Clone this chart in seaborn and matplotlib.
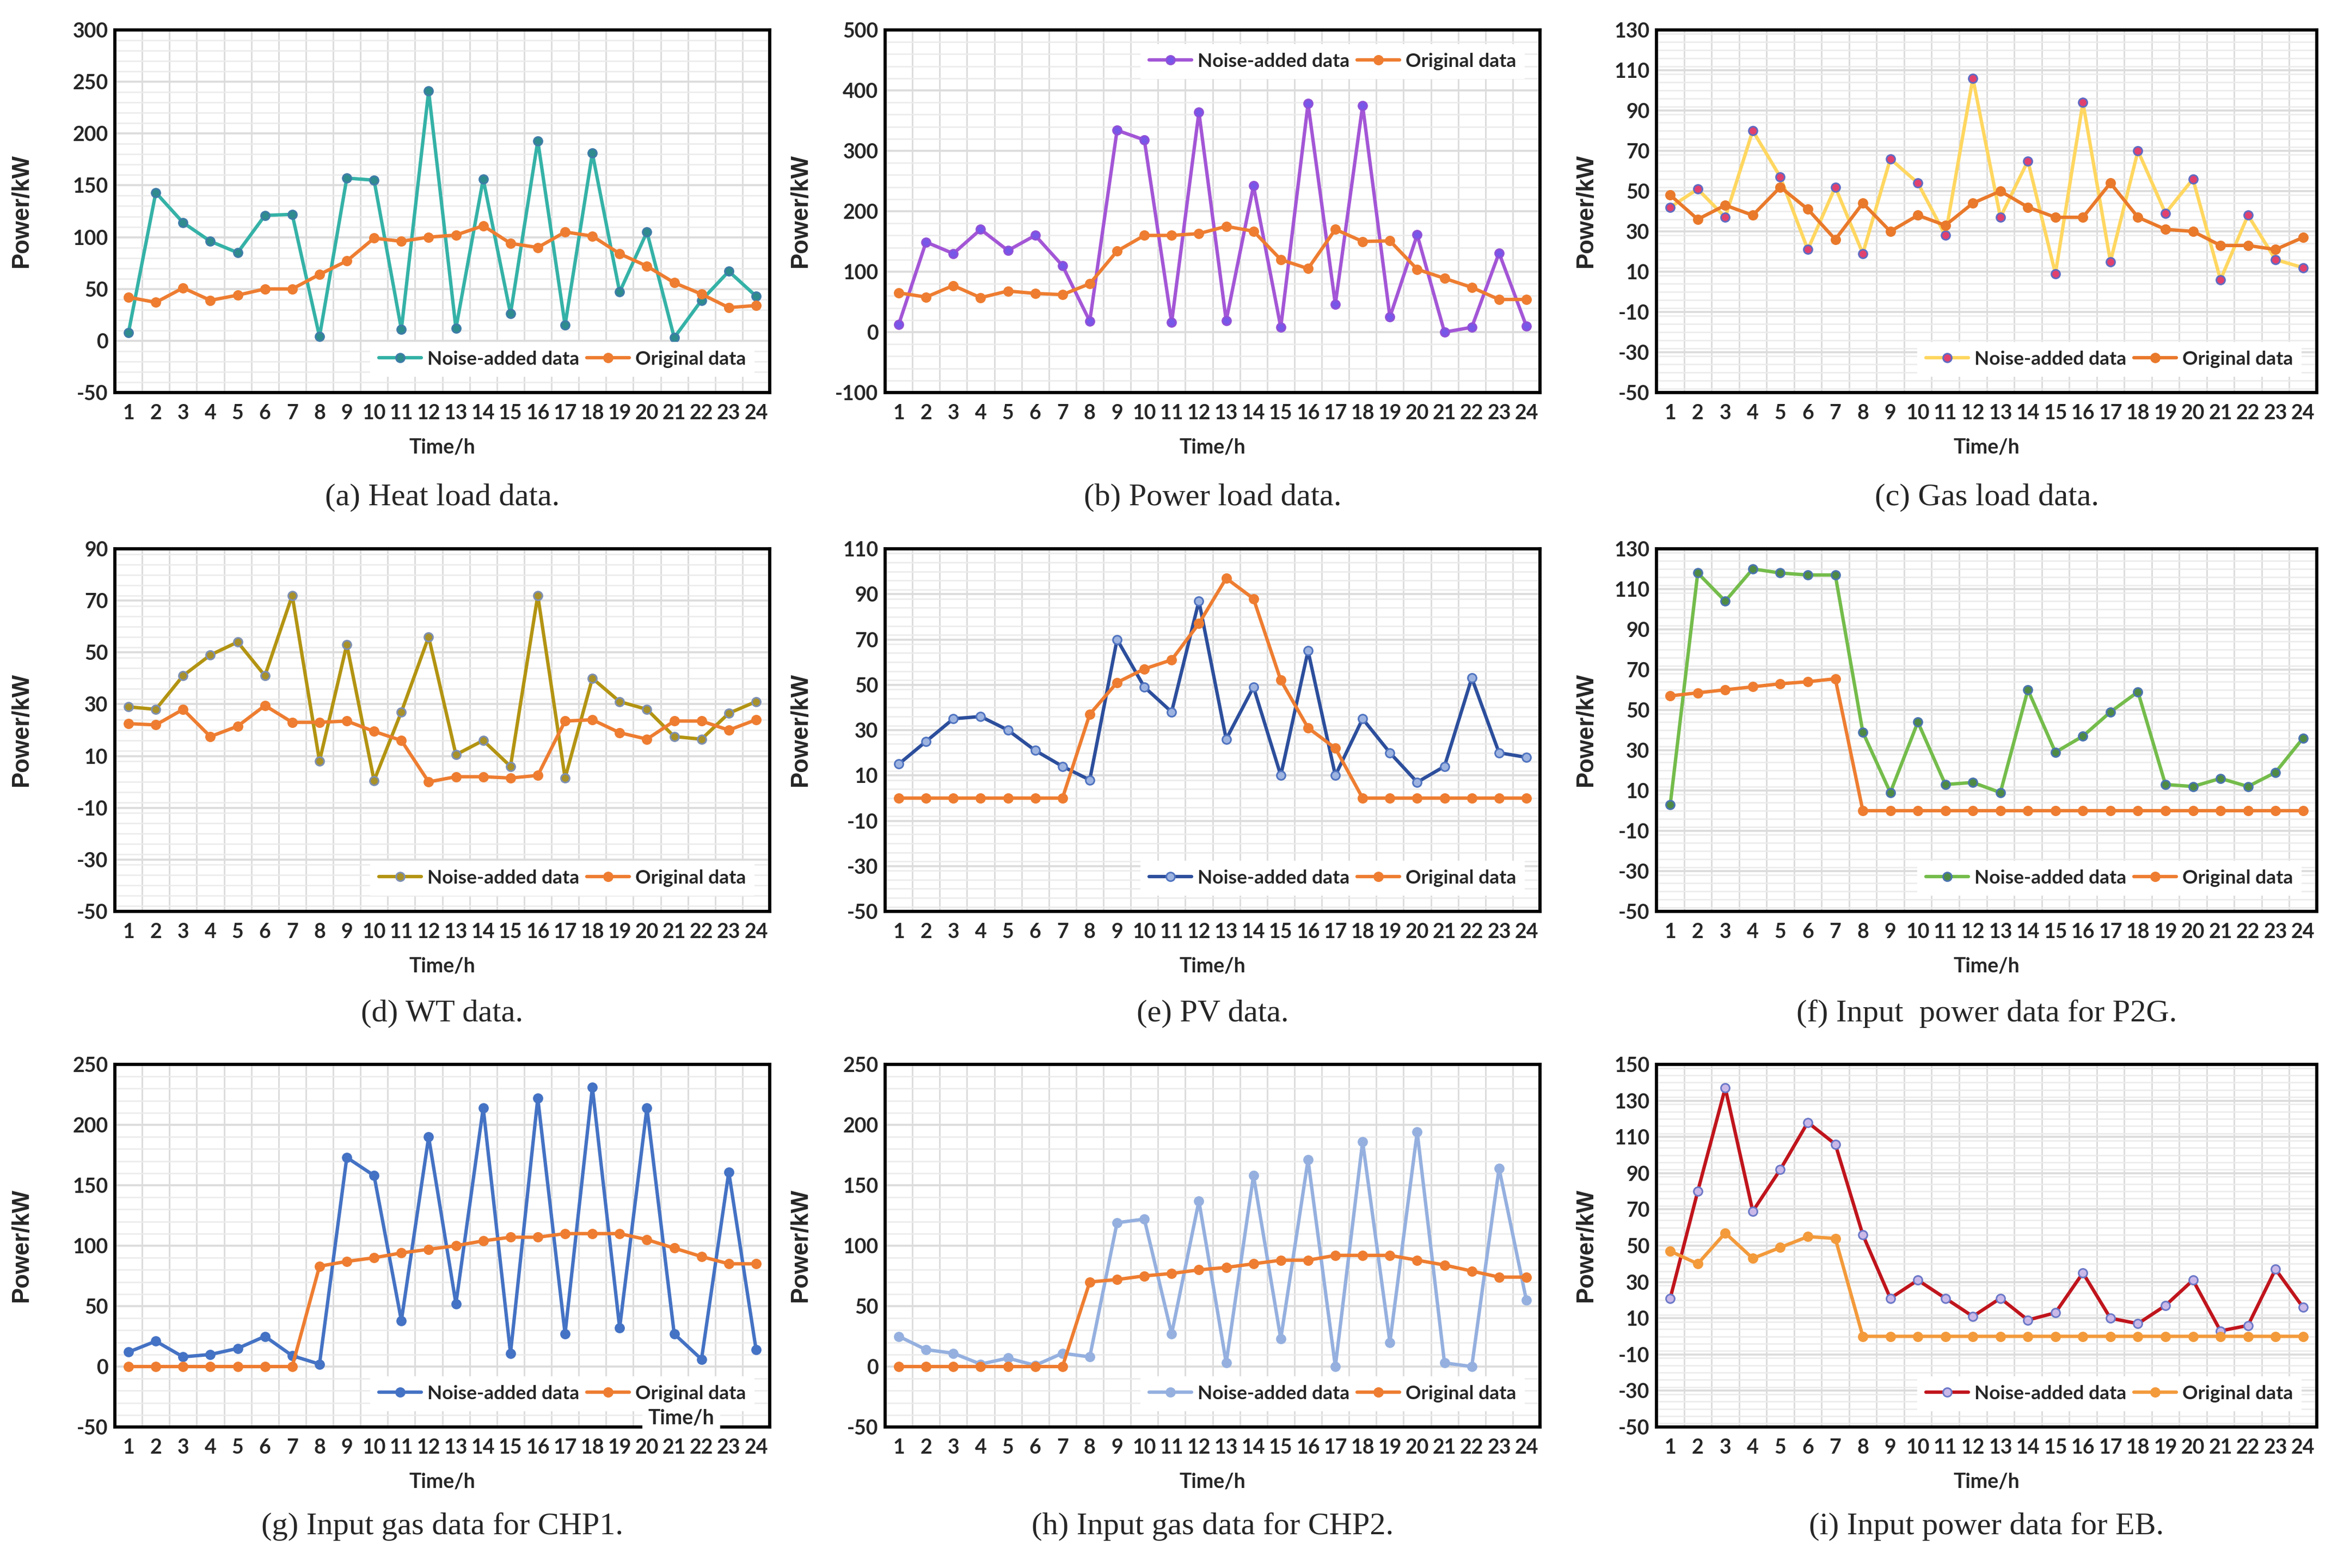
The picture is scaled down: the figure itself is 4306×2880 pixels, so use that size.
import numpy as np
import pandas as pd
import matplotlib
matplotlib.use("Agg")
import matplotlib.pyplot as plt
from matplotlib.ticker import MultipleLocator, FixedLocator
import seaborn as sns

sns.set_style("white")
plt.rcParams['font.family'] = ['Lato', 'DejaVu Sans']

hours = list(range(1, 25))

heat_noise = [8, 143, 114, 96, 85, 121, 122, 4, 157, 155, 11, 241, 12, 156, 26, 193, 15, 181, 47, 105, 3, 39, 67, 43]
heat_orig = [42, 37, 51, 39, 44, 50, 50, 64, 77, 99, 96, 100, 102, 111, 94, 90, 105, 101, 84, 72, 56, 45, 32, 34]

power_noise = [13, 149, 130, 170, 135, 160, 110, 18, 334, 318, 16, 364, 19, 242, 8, 378, 46, 375, 25, 161, 0, 8, 131, 10]
power_orig = [65, 58, 77, 57, 68, 64, 62, 80, 134, 160, 160, 163, 175, 167, 120, 105, 170, 150, 151, 104, 89, 74, 54, 54]

gas_noise = [42, 51, 37, 80, 57, 21, 52, 19, 66, 54, 28, 106, 37, 65, 9, 94, 15, 70, 39, 56, 6, 38, 16, 12]
gas_orig = [48, 36, 43, 38, 52, 41, 26, 44, 30, 38, 33, 44, 50, 42, 37, 37, 54, 37, 31, 30, 23, 23, 21, 27]

wt_noise = [29, 28, 41, 49, 54, 41, 72, 8, 53, 0.5, 27, 56, 10.5, 16, 6, 72, 1.5, 40, 31, 28, 17.5, 16.5, 26.5, 31]
wt_orig = [22.5, 22, 28, 17.5, 21.5, 29.5, 23, 23, 23.5, 19.5, 16, 0, 2, 2, 1.5, 2.5, 23.5, 24, 19, 16.5, 23.5, 23.5, 20, 24]

pv_noise = [15, 25, 35, 36, 30, 21, 14, 8, 70, 49, 38, 87, 26, 49, 10, 65, 10, 35, 20, 7, 14, 53, 20, 18]
pv_orig = [0, 0, 0, 0, 0, 0, 0, 37, 51, 57, 61, 77, 97, 88, 52, 31, 22, 0, 0, 0, 0, 0, 0, 0]

p2g_noise = [3, 118, 104, 120, 118, 117, 117, 39, 9, 44, 13, 14, 9, 60, 29, 37, 49, 59, 13, 12, 16, 12, 19, 36]
p2g_orig = [57, 58.5, 60, 61.5, 63, 64, 65.5, 0, 0, 0, 0, 0, 0, 0, 0, 0, 0, 0, 0, 0, 0, 0, 0, 0]

chp1_noise = [12, 21, 8, 10, 15, 25, 9, 2, 173, 158, 38, 190, 52, 214, 11, 222, 27, 231, 32, 214, 27, 6, 161, 14]
chp1_orig = [0, 0, 0, 0, 0, 0, 0, 83, 87, 90, 94, 97, 100, 104, 107, 107, 110, 110, 110, 105, 98, 91, 85, 85]

chp2_noise = [25, 14, 11, 2, 7, 1, 11, 8, 119, 122, 27, 137, 3, 158, 23, 171, 0, 186, 20, 194, 3, 0, 164, 55]
chp2_orig = [0, 0, 0, 0, 0, 0, 0, 70, 72, 75, 77, 80, 82, 85, 88, 88, 92, 92, 92, 88, 84, 79, 74, 74]

eb_noise = [21, 80, 137, 69, 92, 118, 106, 56, 21, 31, 21, 11, 21, 9, 13, 35, 10, 7, 17, 31, 3, 6, 37, 16]
eb_orig = [47, 40, 57, 43, 49, 55, 54, 0, 0, 0, 0, 0, 0, 0, 0, 0, 0, 0, 0, 0, 0, 0, 0, 0]

captions = ["(a) Heat load data.", "(b) Power load data.", "(c) Gas load data.",
            "(d) WT data.", "(e) PV data.", "(f) Input  power data for P2G.",
            "(g) Input gas data for CHP1.", "(h) Input gas data for CHP2.", "(i) Input power data for EB."]

panels = [
    (heat_noise, heat_orig, (-50, 300), 50, ('#35B2A7', '#2E8C8E', '#3E7CA8'), '#EE7D31', 'lower right'),
    (power_noise, power_orig, (-100, 500), 100, ('#A356D6', '#7757E8', '#9050D8'), '#EE7D31', 'upper right'),
    (gas_noise, gas_orig, (-50, 130), 20, ('#FFD760', '#E0416E', '#5E6BC4'), '#E9792B', 'lower right'),
    (wt_noise, wt_orig, (-50, 90), 20, ('#B39412', '#A8912A', '#7D8FB3'), '#EE7D31', 'lower right'),
    (pv_noise, pv_orig, (-50, 110), 20, ('#2C4E9C', '#9DB3E0', '#4F73C0'), '#EE7D31', 'lower right'),
    (p2g_noise, p2g_orig, (-50, 130), 20, ('#74BC4B', '#4F8A45', '#4A74B0'), '#EE7D31', 'lower right'),
    (chp1_noise, chp1_orig, (-50, 250), 50, ('#4472C4', '#4472C4', '#4472C4'), '#EE7D31', 'lower right'),
    (chp2_noise, chp2_orig, (-50, 250), 50, ('#95B0DF', '#95B0DF', '#95B0DF'), '#EE7D31', 'lower right'),
    (eb_noise, eb_orig, (-50, 150), 20, ('#C0141C', '#C9B8E8', '#6B78C8'), '#F39A3B', 'lower right'),
]

W, H = 4306, 2880
col_left = [211, 1626, 3043]
col_width = [1203, 1203, 1213]
row_top = [55, 1008, 1955]
row_height = 666
caption_y = [914, 1862, 2804]
ylabel_x = [-0.125, -0.112, -0.09]

fig = plt.figure(figsize=(W / 300, H / 300), dpi=300)
fig.patch.set_facecolor('white')

for i, (noise, orig, ylim, step, ncol, ocol, loc) in enumerate(panels):
    r, c = divmod(i, 3)
    rect = [col_left[c] / W, 1 - (row_top[r] + row_height) / H, col_width[c] / W, row_height / H]
    ax = fig.add_axes(rect)
    df = pd.DataFrame({'Time': hours, 'noise': noise, 'orig': orig})

    sns.lineplot(data=df, x='Time', y='noise', ax=ax, color=ncol[0], linewidth=1.5,
                 marker='o', markersize=3.8, markerfacecolor=ncol[1], markeredgecolor=ncol[2],
                 markeredgewidth=0.7, label='Noise-added data', zorder=3)
    sns.lineplot(data=df, x='Time', y='orig', ax=ax, color=ocol, linewidth=1.5,
                 marker='o', markersize=3.8, markerfacecolor=ocol, markeredgecolor=ocol,
                 label='Original data', zorder=3)

    ax.set_xlim(0.5, 24.5)
    ax.set_ylim(*ylim)
    ax.set_xticks(hours)
    ax.set_xticklabels([str(h) for h in hours], fontsize=9, fontweight='bold')
    ax.xaxis.set_minor_locator(FixedLocator(np.arange(1.5, 24, 1)))
    yt = np.arange(ylim[0], ylim[1] + 1, step)
    ax.set_yticks(yt)
    ax.set_yticklabels([str(int(v)) for v in yt], fontsize=9, fontweight='bold')
    ax.yaxis.set_minor_locator(MultipleLocator(step / 5))

    ax.tick_params(axis='x', which='major', length=0, pad=5)
    ax.tick_params(axis='x', which='minor', direction='in', length=4, width=0.9, color='black')
    ax.tick_params(axis='y', which='major', direction='in', length=4, width=0.9, pad=3)
    ax.tick_params(axis='y', which='minor', direction='in', length=2.5, width=0.8)

    ax.grid(False)
    ax.grid(which='minor', axis='x', color='#DCDCDC', linewidth=0.7)
    ax.grid(which='major', axis='y', color='#DCDCDC', linewidth=0.9)
    ax.grid(which='minor', axis='y', color='#EBEBEB', linewidth=0.6)
    ax.set_axisbelow(True)
    for s in ax.spines.values():
        s.set_linewidth(1.4)
        s.set_color('black')

    ax.set_xlabel('Time/h', fontsize=9, fontweight='bold')
    ax.xaxis.set_label_coords(0.5, -0.125)
    ax.set_ylabel('Power/kW', fontsize=10.5, fontweight='bold', family=['Liberation Sans', 'DejaVu Sans'])
    ax.yaxis.set_label_coords(ylabel_x[c], 0.5)

    if loc == 'upper right':
        anchor = (0.99, 0.985)
    else:
        anchor = (0.99, 0.02)
    leg = ax.legend(loc=loc, bbox_to_anchor=anchor, ncol=2,
                    prop={'weight': 'bold', 'size': 8.5}, frameon=True, fancybox=False,
                    facecolor='white', edgecolor='white', framealpha=1,
                    handlelength=2.2, handletextpad=0.3, columnspacing=0.4, borderpad=0.4)
    leg.set_zorder(4)

    if i == 6:
        # stray axis title sitting over the legend in the source figure
        ax.text(0.865, 0.0, 'Time/h', transform=ax.transAxes, ha='center', va='bottom',
                fontsize=9, fontweight='bold', zorder=6, clip_on=False,
                bbox=dict(facecolor='white', edgecolor='none', pad=2.5))

    cx = (col_left[c] + col_width[c] / 2) / W
    fig.text(cx, 1 - caption_y[r] / H, captions[i], ha='center', va='center',
             fontsize=14, family=['Liberation Serif', 'DejaVu Serif'])

fig.savefig('out.png', dpi=300, facecolor='white')
